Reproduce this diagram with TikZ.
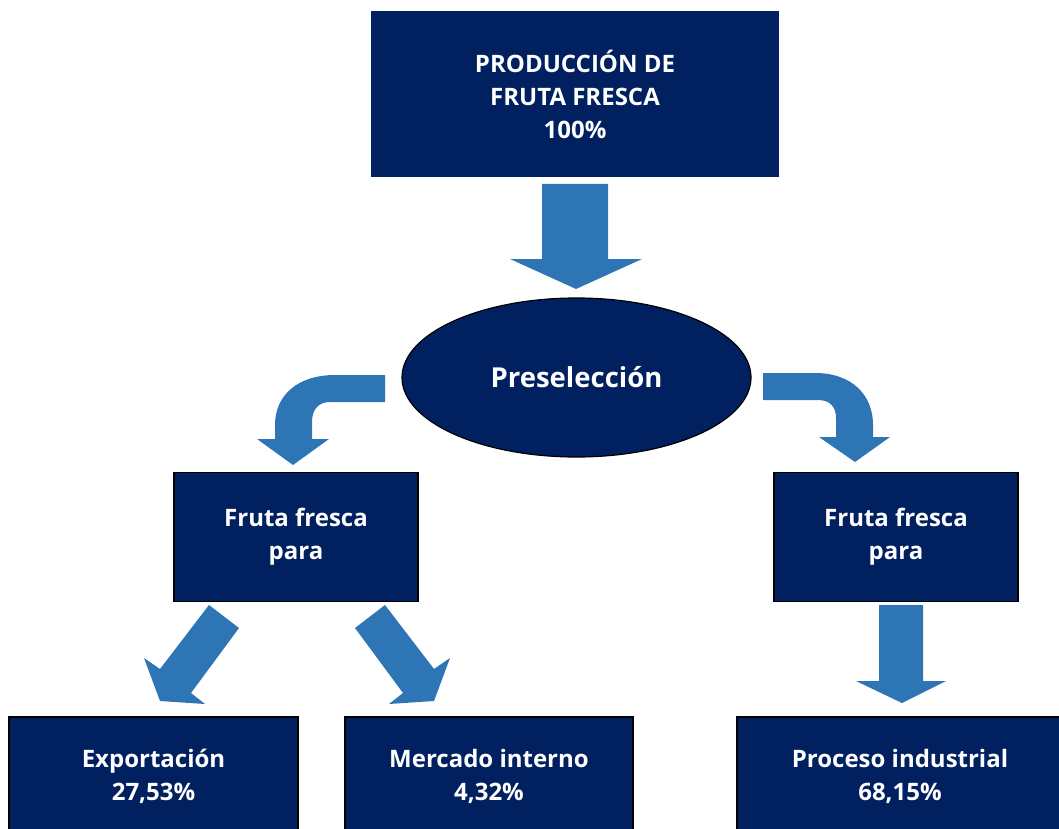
\documentclass[tikz,border=0pt]{standalone}
\usepackage{fontspec}
\setmainfont{Open Sans}
\usetikzlibrary{shapes.geometric}
\definecolor{navy}{RGB}{0,32,96}
\definecolor{arrowblue}{RGB}{46,117,182}
\tikzset{
  box/.style={rectangle, fill=navy, draw=black, line width=1.5pt, text=white,
    font=\fontsize{24}{33}\selectfont\bfseries, align=center, inner sep=0pt},
  topbox/.style={box, draw=none},
  oval/.style={ellipse, fill=navy, draw=black, line width=1.2pt, text=white,
    font=\fontsize{27.5}{36}\selectfont\bfseries, inner sep=0pt},
  blockarrow/.style={fill=arrowblue, draw=none}
}
\begin{document}
\begin{tikzpicture}[x=1pt,y=-1pt]
\useasboundingbox (0,0) rectangle (1059,829);
% nodes
\node[topbox, minimum width=408pt, minimum height=166pt] (top) at (575,94)
  {PRODUCCIÓN DE\\FRUTA FRESCA\\100\%};
\node[oval, minimum width=349pt, minimum height=159pt] (pre) at (576.5,377.5) {Preselección};
\node[box, minimum width=244pt, minimum height=129pt] (fl) at (296,537) {Fruta fresca\\para};
\node[box, minimum width=244pt, minimum height=129pt] (fr) at (896,537) {Fruta fresca\\para};
\node[box, minimum width=289pt, minimum height=118pt] (exp) at (153.5,776) {Exportación\\27,53\%};
\node[box, minimum width=288pt, minimum height=118pt] (mer) at (489,776) {Mercado interno\\4,32\%};
\node[box, minimum width=326pt, minimum height=118pt] (proc) at (900,776) {Proceso industrial\\68,15\%};
% block arrows
% top -> preselection
\fill[blockarrow] (542,184) -- (608,184) -- (608,259) -- (642,259) -- (576,289)
  -- (510,259) -- (542,259) -- cycle;
% preselection -> left box (curved)
\fill[blockarrow] (385,375) -- (335,375) .. controls (298,375) and (275,395) .. (275,425)
  -- (275,439) -- (257,439) -- (293,465) -- (329,439) -- (312,439) -- (312,422)
  .. controls (312,410) and (318,402) .. (330,402) -- (385,402) -- cycle;
% preselection -> right box (curved)
\fill[blockarrow] (763,373) -- (815,373) .. controls (852,373) and (873,395) .. (873,425)
  -- (873,437) -- (890,437) -- (855,462) -- (819,437) -- (836,437) -- (836,418)
  .. controls (836,407) and (830,400) .. (818,400) -- (763,400) -- cycle;
% left box -> Exportacion
\fill[blockarrow] (209,605) -- (239,628) -- (191,693) -- (205,704) -- (160,701)
  -- (144,658) -- (160,669) -- cycle;
% left box -> Mercado interno
\fill[blockarrow] (385,605) -- (355,628) -- (403,693) -- (389,704) -- (434,701)
  -- (450,658) -- (434,669) -- cycle;
% right box -> Proceso industrial
\fill[blockarrow] (879,605) -- (923,605) -- (923,681) -- (946,681) -- (902,703)
  -- (856,681) -- (879,681) -- cycle;
\end{tikzpicture}
\end{document}
